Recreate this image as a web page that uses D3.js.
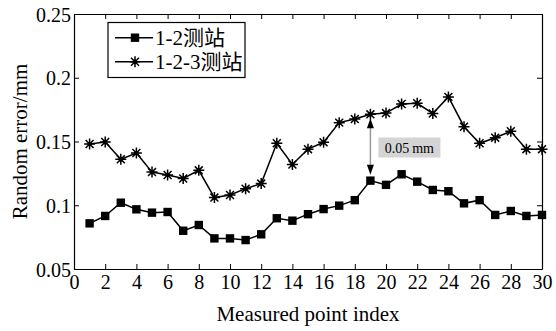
<!DOCTYPE html>
<html>
<head>
<meta charset="utf-8">
<script src="https://cdn.jsdelivr.net/npm/d3@7"></script>
<style>
  body { margin: 0; background: #fff; }
  text { font-family: "Liberation Serif", "Noto Sans CJK SC", serif; fill: #000; }
</style>
</head>
<body>
<svg id="chart" width="556" height="331"></svg>
<script>
// point index 1..30
const pointIndex = d3.range(1, 31);

// 1-2测站 (squares)
const series12 = [0.0858, 0.0916, 0.102, 0.0968, 0.0942, 0.0947, 0.080, 0.0845, 0.074, 0.074,
  0.0727, 0.0772, 0.0898, 0.0879, 0.093, 0.097, 0.0997, 0.104, 0.1193, 0.116,
  0.1243, 0.1185, 0.112, 0.111, 0.1015, 0.104, 0.0924, 0.0955, 0.0916, 0.0924];

// 1-2-3测站 (stars)
const series123 = [0.148, 0.1496, 0.136, 0.141, 0.126, 0.1237, 0.121, 0.1274, 0.106, 0.108,
  0.113, 0.117, 0.1486, 0.132, 0.144, 0.1494, 0.1648, 0.1676, 0.1713, 0.1723,
  0.1794, 0.180, 0.172, 0.185, 0.1616, 0.1486, 0.153, 0.158, 0.144, 0.144];

const xTicks = d3.range(0, 31, 2);
const yTicks = [0.05, 0.1, 0.15, 0.2, 0.25];
const legendNames = ['1-2测站', '1-2-3测站'];

let w = 556, h = 331;
let margin = {left: 74, right: 14, top: 14, bottom: 62};

let svg = d3.select('#chart');

let xScale = d3.scaleLinear().domain([0, 30]).range([margin.left, w - margin.right]);
let yScale = d3.scaleLinear().domain([0.05, 0.25]).range([h - margin.bottom, margin.top]);

// axes, MATLAB style: ticks inside on all four sides
let fmtY = (d) => d === 0.1 ? '0.1' : d === 0.2 ? '0.2' : d3.format('.2f')(d);

let bottomAx = svg.append('g')
  .attr('transform', `translate(0, ${h - margin.bottom})`)
  .call(d3.axisBottom(xScale).tickValues(xTicks).tickSizeInner(-5).tickSizeOuter(0).tickPadding(6));
svg.append('g')
  .attr('transform', `translate(0, ${margin.top})`)
  .call(d3.axisTop(xScale).tickValues(xTicks).tickSizeInner(-5).tickSizeOuter(0).tickFormat(''));
let leftAx = svg.append('g')
  .attr('transform', `translate(${margin.left}, 0)`)
  .call(d3.axisLeft(yScale).tickValues(yTicks).tickSizeInner(-5).tickSizeOuter(0).tickPadding(3).tickFormat(fmtY));
svg.append('g')
  .attr('transform', `translate(${w - margin.right}, 0)`)
  .call(d3.axisRight(yScale).tickValues(yTicks).tickSizeInner(-5).tickSizeOuter(0).tickFormat(''));

svg.selectAll('.domain').attr('stroke', '#000').attr('stroke-width', 1.2);
svg.selectAll('.tick line').attr('stroke', '#000');
bottomAx.selectAll('text').attr('font-size', '20px').attr('font-family', 'Liberation Serif');
leftAx.selectAll('text').attr('font-size', '20px').attr('font-family', 'Liberation Serif').attr('dy', '0.36em');

// axis titles
svg.append('text')
  .attr('x', (margin.left + w - margin.right) / 2)
  .attr('y', 321)
  .attr('text-anchor', 'middle')
  .attr('font-size', '21px')
  .text('Measured point index');

svg.append('text')
  .attr('transform', `translate(27, ${(margin.top + h - margin.bottom) / 2}) rotate(-90)`)
  .attr('text-anchor', 'middle')
  .attr('font-size', '21px')
  .text('Random error/mm');

// lines
let line = d3.line().x((d, i) => xScale(pointIndex[i])).y((d) => yScale(d));

svg.append('path').datum(series123)
  .attr('d', line).attr('fill', 'none').attr('stroke', '#000').attr('stroke-width', 1.5);
svg.append('path').datum(series12)
  .attr('d', line).attr('fill', 'none').attr('stroke', '#000').attr('stroke-width', 1.5);

// star marker path: + and x with a dot
function starPath(r) {
  let a = r * 0.72;
  return `M${-r},0L${r},0M0,${-r}L0,${r}M${-a},${-a}L${a},${a}M${-a},${a}L${a},${-a}`;
}

function drawStar(g, x, y) {
  g.append('path').attr('d', starPath(5.5))
    .attr('transform', `translate(${x},${y})`)
    .attr('stroke', '#000').attr('stroke-width', 1.5).attr('fill', 'none');
  g.append('circle').attr('cx', x).attr('cy', y).attr('r', 2.3).attr('fill', '#000');
}

let starG = svg.append('g');
series123.forEach((d, i) => drawStar(starG, xScale(pointIndex[i]), yScale(d)));

svg.selectAll('rect.sq')
  .data(series12)
  .enter()
  .append('rect')
  .attr('class', 'sq')
  .attr('x', (d, i) => xScale(pointIndex[i]) - 4.2)
  .attr('y', (d) => yScale(d) - 4.2)
  .attr('width', 8.4)
  .attr('height', 8.4)
  .attr('fill', '#000');

// annotation 0.05 mm between point 19 of the two series
let ax = xScale(pointIndex[18]);
let yTop = yScale(series123[18]) + 4;
let yBot = yScale(series12[18]) - 6;
svg.append('line')
  .attr('x1', ax).attr('x2', ax)
  .attr('y1', yTop + 8).attr('y2', yBot - 8)
  .attr('stroke', '#999').attr('stroke-width', 1.5);
svg.append('path')
  .attr('d', `M${ax},${yTop}L${ax - 3.5},${yTop + 10}L${ax + 3.5},${yTop + 10}Z`)
  .attr('fill', '#000');
svg.append('path')
  .attr('d', `M${ax},${yBot}L${ax - 3.5},${yBot - 10}L${ax + 3.5},${yBot - 10}Z`)
  .attr('fill', '#000');

svg.append('rect')
  .attr('x', ax + 8).attr('y', 137.5)
  .attr('width', 62).attr('height', 20)
  .attr('fill', '#d4d4d4');
svg.append('text')
  .attr('x', ax + 39).attr('y', 152.5)
  .attr('text-anchor', 'middle')
  .attr('font-size', '14px')
  .text('0.05\u2009mm');

// legend
let lg = svg.append('g');
lg.append('rect')
  .attr('x', 108).attr('y', 22.5)
  .attr('width', 137).attr('height', 55)
  .attr('fill', '#fff').attr('stroke', '#000').attr('stroke-width', 1.2);

let legendY = [37.7, 61.7];
legendNames.forEach((name, i) => {
  let y = legendY[i];
  lg.append('line').attr('x1', 115).attr('x2', 153).attr('y1', y).attr('y2', y)
    .attr('stroke', '#000').attr('stroke-width', 1.5);
  if (i === 0) {
    lg.append('rect').attr('x', 135 - 4.2).attr('y', y - 4.2).attr('width', 8.4).attr('height', 8.4).attr('fill', '#000');
  } else {
    drawStar(lg, 135, y);
  }
  lg.append('text').attr('x', 155).attr('y', y + 7).attr('font-size', '21px').text(name);
});
</script>
</body>
</html>
